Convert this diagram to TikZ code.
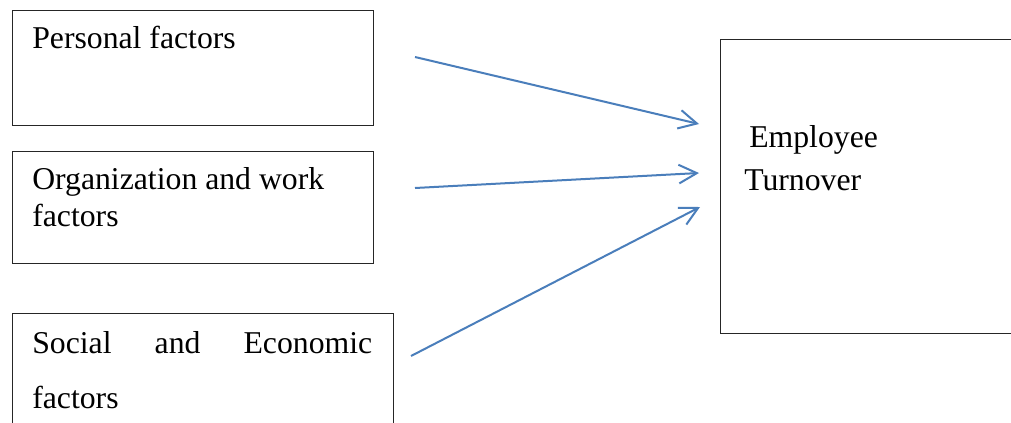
\documentclass[tikz,border=0pt]{standalone}
\usepackage{fontspec}
\setmainfont{Liberation Serif}
\usetikzlibrary{arrows.meta}
\definecolor{arrowblue}{RGB}{74,126,187}
\begin{document}
\begin{tikzpicture}[x=0.75pt,y=-0.75pt,
  box/.style={draw=black!85, line width=0.9pt, rectangle, inner sep=0pt, anchor=north west},
  lbl/.style={inner sep=0pt, anchor=base west, font=\fontsize{23.8}{28}\selectfont},
  conn/.style={draw=arrowblue, line width=1.5pt, -{Straight Barb[length=13.5pt,width=14pt,line width=1.5pt]}}]
\clip (0,0) rectangle (1011,422);
\fill[white] (0,0) rectangle (1011,422);
% boxes
\node[box, minimum width=270.75pt, minimum height=86.25pt] (b1) at (12,10) {};
\node[box, minimum width=270.75pt, minimum height=84pt] (b2) at (12,151) {};
\node[box, minimum width=285.75pt, minimum height=110pt] (b3) at (12,313) {};
\node[box, minimum width=240pt, minimum height=220.5pt] (b4) at (720,39) {};
% texts
\node[lbl] (t1) at (32,48) {Personal factors};
\node[lbl] (t2a) at (32,189) {Organization and work};
\node[lbl] (t2b) at (32,226) {factors};
\node[lbl] (t3a) at (32,353) {\makebox[255pt][s]{Social and Economic}};
\node[lbl] (t3b) at (32,408) {factors};
\node[lbl] (t4a) at (749,147) {Employee};
\node[lbl] (t4b) at (744,190) {Turnover};
% connector ends
\coordinate (s1) at (415,57);
\coordinate (s2) at (415,188);
\coordinate (s3) at (411,356);
\coordinate (e1) at (699,124);
\coordinate (e2) at (699,173);
\coordinate (e3) at (700,207);
\draw[conn] (s1) -- (e1);
\draw[conn] (s2) -- (e2);
\draw[conn] (s3) -- (e3);
\end{tikzpicture}
\end{document}
